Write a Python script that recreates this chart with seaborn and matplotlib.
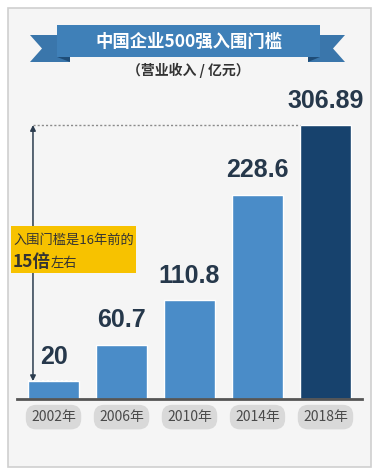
import matplotlib
matplotlib.use("Agg")
import matplotlib.pyplot as plt
from matplotlib.patches import Rectangle, Polygon
import seaborn as sns
import pandas as pd

years = ["2002年", "2006年", "2010年", "2014年", "2018年"]
values = [20, 60.7, 110.8, 228.6, 306.89]
value_labels = ["20", "60.7", "110.8", "228.6", "306.89"]
bar_colors = ["#4a8cc8", "#4a8cc8", "#4a8cc8", "#4a8cc8", "#17426d"]
title = "中国企业500强入围门槛"
subtitle = "（营业收入 / 亿元）"
note_line1 = "入围门槛是16年前的"
note_big = "15倍"
note_small = "左右"

sns.set_style("white")
plt.rcParams["font.family"] = ["Noto Sans CJK SC", "DejaVu Sans"]

W, H = 379, 473
fig = plt.figure(figsize=(W / 100, H / 100), dpi=100)
fig.patch.set_facecolor("white")

def fx(x):
    return x / W

def fy(y):
    return 1 - y / H

def P(x, y):
    return (fx(x), fy(y))

# inner panel
fig.add_artist(Rectangle(P(8, 467), fx(363), 459 / H, transform=fig.transFigure,
                         facecolor="#f5f5f5", edgecolor="#cfcfcf", lw=1.2, zorder=-10))

ax = fig.add_axes([fx(17), 1 - 399 / H, fx(345), 379 / H])
ax.set_facecolor("none")
df = pd.DataFrame({"year": years, "value": values})
sns.barplot(data=df, x="year", y="value", hue="year", palette=bar_colors,
            width=0.75, legend=False, ax=ax, saturation=1)
ax.set_xlim(-0.537, 4.537)
ax.set_ylim(0, 424.5)

for cont, lab in zip(ax.containers, value_labels):
    ax.bar_label(cont, labels=[lab], padding=9, fontsize=18, fontweight="bold",
                 color="#26384b", family=["Liberation Sans", "DejaVu Sans"])

# dotted top edge of first bar
ax.plot([-0.375, 0.375], [values[0], values[0]], ls=(0, (1.2, 1.2)), color="white",
        lw=1.4, zorder=5)

# dotted reference line and arrow
xa = -0.302
ax.plot([xa, 4 - 0.375], [values[-1], values[-1]], ls=(0, (1.5, 1.5)), color="#8a8a8a",
        lw=1.0, zorder=3)
ax.annotate("", xy=(xa, values[-1]), xytext=(xa, values[0]),
            arrowprops=dict(arrowstyle="<|-|>", color="#2b3c4e", lw=1.1,
                            mutation_scale=8, shrinkA=0, shrinkB=0))

for s in ["top", "right", "left"]:
    ax.spines[s].set_visible(False)
ax.spines["bottom"].set_color("#555555")
ax.spines["bottom"].set_linewidth(2)
ax.set_yticks([])
ax.set_xlabel("")
ax.set_ylabel("")
ax.tick_params(axis="x", length=0, pad=8, labelsize=10, labelcolor="#4a4a4a")
for t in ax.get_xticklabels():
    t.set_bbox(dict(boxstyle="round,pad=0.38,rounding_size=0.75", fc="#d9d9d9", ec="none"))

# ribbon
band = "#3f80b8"
tail = "#3a76ab"
fold = "#1f4d78"
fig.add_artist(Polygon([P(30, 35), P(70, 35), P(70, 62), P(30, 62), P(42, 48.5)],
                       transform=fig.transFigure, fc=tail, ec="none", zorder=2))
fig.add_artist(Polygon([P(57, 57), P(70, 57), P(70, 62)],
                       transform=fig.transFigure, fc=fold, ec="none", zorder=2))
fig.add_artist(Polygon([P(345, 35), P(308, 35), P(308, 62), P(345, 62), P(333, 48.5)],
                       transform=fig.transFigure, fc=tail, ec="none", zorder=2))
fig.add_artist(Polygon([P(320, 57), P(308, 57), P(308, 62)],
                       transform=fig.transFigure, fc=fold, ec="none", zorder=2))
fig.add_artist(Rectangle(P(57, 57), fx(263), 32 / H, transform=fig.transFigure,
                         fc=band, ec="none", zorder=3))
fig.text(fx(189), fy(41.5), title, color="white", fontsize=12.5, fontweight="bold",
         ha="center", va="center", zorder=4)
fig.text(fx(188), fy(70.5), subtitle, color="#333333", fontsize=10, fontweight="bold",
         ha="center", va="center")

# yellow note box
fig.add_artist(Rectangle(P(11, 273), fx(125), 47 / H, transform=fig.transFigure,
                         fc="#f7c200", ec="none", zorder=3))
fig.text(fx(13), fy(240), note_line1, color="#333333", fontsize=9.5,
         ha="left", va="center", zorder=4)
t1 = fig.text(fx(13), fy(262), note_big, color="#333333", fontsize=12.5, fontweight="bold",
              ha="left", va="center", zorder=4)
fig.canvas.draw()
bb = t1.get_window_extent()
fig.text(bb.x1 / W, fy(263), note_small, color="#333333", fontsize=9.5,
         ha="left", va="center", zorder=4)

fig.savefig("out.png", dpi=100, facecolor=fig.get_facecolor())
